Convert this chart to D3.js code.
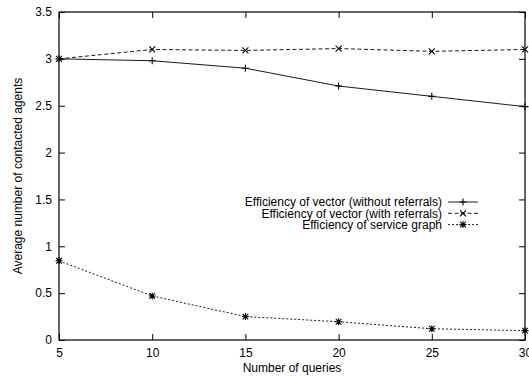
<!DOCTYPE html>
<html>
<head>
<meta charset="utf-8">
<script src="https://cdn.jsdelivr.net/npm/d3@7"></script>
<style>
  html, body { margin: 0; padding: 0; background: #fff; }
  svg { display: block; font-family: "Liberation Sans", Arial, Helvetica, sans-serif; }
  .domain { display: none; }
</style>
</head>
<body>
<svg id="chart" width="529" height="378"></svg>
<script>
// Number of queries on the x axis
const queries = [5, 10, 15, 20, 25, 30];

// Average number of contacted agents per approach
const vectorNoReferrals = [3.0, 2.98, 2.9, 2.71, 2.6, 2.49];
const vectorWithReferrals = [3.0, 3.1, 3.09, 3.11, 3.08, 3.1];
const serviceGraph = [0.845, 0.47, 0.25, 0.195, 0.12, 0.1];

const xTicks = [5, 10, 15, 20, 25, 30];
const yTicks = [0, 0.5, 1, 1.5, 2, 2.5, 3, 3.5];

const seriesNames = [
  "Efficiency of vector (without referrals)",
  "Efficiency of vector (with referrals)",
  "Efficiency of service graph"
];

const margin = { left: 59, top: 12, right: 525, bottom: 340 };

const svg = d3.select("#chart");
const x = d3.scaleLinear().domain([5, 30]).range([margin.left, margin.right]);
const y = d3.scaleLinear().domain([0, 3.5]).range([margin.bottom, margin.top]);

const fontSize = 12;

// Ticks point inward on all four sides
svg.append("g")
  .attr("transform", `translate(0,${margin.bottom})`)
  .call(d3.axisBottom(x).tickValues(xTicks).tickSize(-6).tickPadding(8).tickFormat(d3.format("d")))
  .call(g => g.selectAll("text").attr("font-size", fontSize).attr("font-family", null).attr("fill", "#000"))
  .call(g => g.selectAll("line").attr("stroke", "#000"));

svg.append("g")
  .attr("transform", `translate(0,${margin.top})`)
  .call(d3.axisTop(x).tickValues(xTicks).tickSize(-6).tickFormat(""))
  .call(g => g.selectAll("line").attr("stroke", "#000"));

svg.append("g")
  .attr("transform", `translate(${margin.left},0)`)
  .call(d3.axisLeft(y).tickValues(yTicks).tickSize(-6).tickPadding(7).tickFormat(d3.format("")))
  .call(g => g.selectAll("text").attr("font-size", fontSize).attr("font-family", null).attr("fill", "#000"))
  .call(g => g.selectAll("line").attr("stroke", "#000"));

svg.append("g")
  .attr("transform", `translate(${margin.right},0)`)
  .call(d3.axisRight(y).tickValues(yTicks).tickSize(-6).tickFormat(""))
  .call(g => g.selectAll("line").attr("stroke", "#000"));

// Plot frame
svg.append("rect")
  .attr("x", margin.left).attr("y", margin.top)
  .attr("width", margin.right - margin.left).attr("height", margin.bottom - margin.top)
  .attr("fill", "none").attr("stroke", "#000").attr("stroke-width", 1.2);

// Axis titles
svg.append("text")
  .attr("x", 292).attr("y", 372)
  .attr("text-anchor", "middle").attr("font-size", fontSize)
  .text("Number of queries");

svg.append("text")
  .attr("transform", `translate(22,${(margin.top + margin.bottom) / 2}) rotate(-90)`)
  .attr("text-anchor", "middle").attr("font-size", fontSize)
  .text("Average number of contacted agents");

// Marker shapes
const plusPath = s => `M${-s},0H${s}M0,${-s}V${s}`;
const crossPath = s => `M${-s},${-s}L${s},${s}M${-s},${s}L${s},${-s}`;
const starPath = s => plusPath(s) + crossPath(s * 0.8);

const series = [
  { name: seriesNames[0], values: vectorNoReferrals, dash: null, marker: plusPath(3.5) },
  { name: seriesNames[1], values: vectorWithReferrals, dash: "4,2.5", marker: crossPath(3) },
  { name: seriesNames[2], values: serviceGraph, dash: "2,2", marker: starPath(3.5) }
];

const line = d3.line().x((d, i) => x(queries[i])).y(d => y(d));

series.forEach(s => {
  svg.append("path")
    .datum(s.values)
    .attr("d", line)
    .attr("fill", "none")
    .attr("stroke", "#000")
    .attr("stroke-width", 0.9)
    .attr("stroke-dasharray", s.dash);
  svg.append("g").selectAll("path")
    .data(s.values)
    .join("path")
    .attr("transform", (d, i) => `translate(${x(queries[i])},${y(d)})`)
    .attr("d", s.marker)
    .attr("fill", "none")
    .attr("stroke", "#000")
    .attr("stroke-width", 1.1);
});

// Legend
const legend = svg.append("g");
series.forEach((s, i) => {
  const ly = 202 + i * 11.3;
  legend.append("text")
    .attr("x", 442).attr("y", ly).attr("dy", "0.35em")
    .attr("text-anchor", "end").attr("font-size", fontSize)
    .text(s.name);
  legend.append("line")
    .attr("x1", 448).attr("x2", 478).attr("y1", ly).attr("y2", ly)
    .attr("stroke", "#000").attr("stroke-width", 0.9)
    .attr("stroke-dasharray", s.dash);
  legend.append("path")
    .attr("transform", `translate(463,${ly})`)
    .attr("d", s.marker)
    .attr("fill", "none").attr("stroke", "#000").attr("stroke-width", 1.1);
});
</script>
</body>
</html>
